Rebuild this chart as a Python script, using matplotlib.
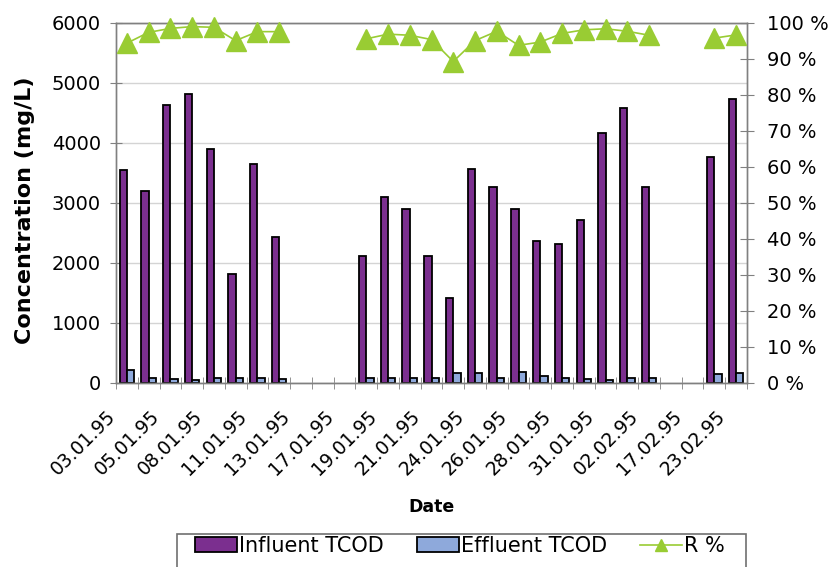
import numpy as np
import matplotlib
matplotlib.use('Agg')
import matplotlib.pyplot as plt
from matplotlib.patches import Rectangle
from matplotlib.transforms import ScaledTranslation

nan = np.nan
dates = ['03.01.95', '04.01.95', '05.01.95', '07.01.95', '08.01.95', '10.01.95',
         '11.01.95', '12.01.95', '13.01.95', '16.01.95', '17.01.95', '18.01.95',
         '19.01.95', '20.01.95', '21.01.95', '23.01.95', '24.01.95', '25.01.95',
         '26.01.95', '27.01.95', '28.01.95', '30.01.95', '31.01.95', '01.02.95',
         '02.02.95', '03.02.95', '17.02.95', '22.02.95', '23.02.95']
influent = [3550, 3200, 4630, 4820, 3900, 1820, 3650, 2430, nan, nan, nan,
            2110, 3100, 2900, 2110, 1420, 3560, 3270, 2900, 2370, 2310, 2720,
            4160, 4590, 3270, nan, nan, 3770, 4730]
effluent = [210, 90, 70, 55, 80, 90, 90, 75, nan, nan, nan,
            90, 90, 90, 90, 165, 170, 80, 190, 120, 80, 60,
            55, 90, 90, nan, nan, 150, 165]
removal = [94.4, 97.4, 98.5, 99.0, 98.8, 95.1, 97.6, 97.6, nan, nan, nan,
           95.6, 96.9, 96.6, 95.4, 89.3, 95.1, 97.7, 93.8, 94.7, 97.1, 98.1,
           98.4, 97.7, 96.6, nan, nan, 95.8, 96.7]
shown_labels = dates[::2]
conc_ticks = [0, 1000, 2000, 3000, 4000, 5000, 6000]
pct_ticks = [0, 10, 20, 30, 40, 50, 60, 70, 80, 90, 100]

plt.rcParams['font.family'] = ['DejaVu Sans']
GRAY = '#808080'

fig = plt.figure(figsize=(8.4, 5.67), dpi=100)
ax = fig.add_axes([116/840, 184/567, 631/840, 360/567])
x = np.arange(len(dates))
w = 0.335
b1 = ax.bar(x - w/2, influent, w, color='#7B2F8F', edgecolor='black',
            linewidth=1.3, label='Influent TCOD', zorder=2)
b2 = ax.bar(x + w/2, effluent, w, color='#8EA9DB', edgecolor='black',
            linewidth=1.3, label='Effluent TCOD', zorder=2)
ax.set_xlim(-0.5, len(dates) - 0.5)
ax.set_ylim(0, 6000)
ax.set_yticks(conc_ticks)
ax.yaxis.grid(True, color='#d4d4d4', lw=1)
ax.set_axisbelow(True)

ax.set_xticks(x[::2])
ax.set_xticklabels(shown_labels, rotation=45, ha='right', va='center',
                   rotation_mode='anchor', fontsize=13.5)
ax.set_xticks(np.arange(-0.5, len(dates)), minor=True)
ax.tick_params(axis='x', which='major', length=0, pad=22)
ax.tick_params(axis='x', which='minor', direction='inout', length=8.5, color=GRAY)
ax.tick_params(axis='y', direction='inout', length=8, color=GRAY, labelsize=14, pad=6.8)
shift = ScaledTranslation(-14/100, 0, fig.dpi_scale_trans)
for lab in ax.get_xticklabels():
    lab.set_transform(lab.get_transform() + shift)

ax.set_ylabel('Concentration (mg/L)', fontsize=16, fontweight='bold')
ax.yaxis.label.set_va('center')
ax.yaxis.set_label_coords((25 - 116) / 631, (383 - 210) / 360)
ax.set_xlabel('Date', fontsize=12.5, fontweight='bold')
ax.xaxis.label.set_va('center')
ax.xaxis.set_label_coords(0.5, (383 - 507) / 360)

ax2 = ax.twinx()
line, = ax2.plot(x, removal, marker='^', ms=14, color='#99CC33', mec='#99CC33',
                 lw=1.2, clip_on=False, label='R %', zorder=3)
ax2.set_ylim(0, 100)
ax2.set_yticks(pct_ticks)
ax2.set_yticklabels([f'{v} %' for v in pct_ticks])
ax2.tick_params(axis='y', direction='inout', length=10, color=GRAY, labelsize=14, pad=9.4)

for a in (ax, ax2):
    for s in a.spines.values():
        s.set_color(GRAY)
        s.set_linewidth(1)

fig.legend([b1, b2, line], ['Influent TCOD', 'Effluent TCOD', 'R %'],
           loc='center left', bbox_to_anchor=(195/840, 1 - 546/567), ncol=3,
           frameon=False, fontsize=15, handlelength=2.0, handletextpad=0.1,
           columnspacing=1.6, borderpad=0, borderaxespad=0, markerscale=0.6)
fig.add_artist(Rectangle((177/840, -0.1), (746 - 177)/840, 0.1 + (567 - 533.5)/567,
                         transform=fig.transFigure, fill=False,
                         edgecolor='#707070', lw=1.2))

fig.savefig('out.png', dpi=100)
